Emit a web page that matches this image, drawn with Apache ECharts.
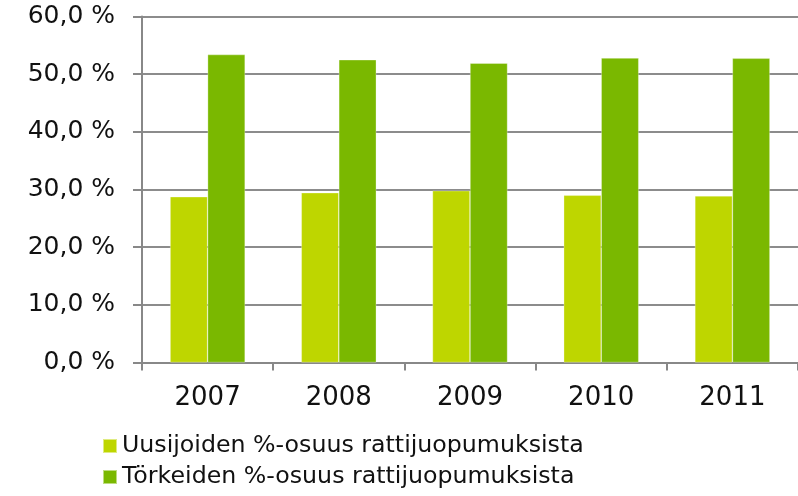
<!DOCTYPE html>
<html><head><meta charset="utf-8">
<script src="https://cdn.jsdelivr.net/npm/echarts@6/dist/echarts.min.js"></script>
<style>html,body{margin:0;padding:0;background:#fff}#c{width:798px;height:496px}</style>
</head><body><div id="c"></div>
<script>
const categories = ['2007', '2008', '2009', '2010', '2011'];
const seriesNames = ['Uusijoiden %-osuus rattijuopumuksista', 'Törkeiden %-osuus rattijuopumuksista'];
const uusijoiden = [28.75, 29.45, 29.8, 29.0, 28.9];
const torkeiden = [53.4, 52.5, 51.9, 52.8, 52.75];
const yTicks = [0, 10, 20, 30, 40, 50, 60];

const chart = echarts.init(document.getElementById('c'), null, {renderer: 'canvas'});
const font = 'DejaVu Sans';
chart.setOption({
  animation: false,
  backgroundColor: '#fff',
  grid: {left: 142, top: 16.5, width: 658, height: 346, containLabel: false},
  xAxis: {
    type: 'category', data: categories,
    axisLine: {lineStyle: {color: '#888', width: 2}},
    axisTick: {show: true, length: 8, lineStyle: {color: '#888', width: 2}, alignWithLabel: false},
    axisLabel: {color: '#111', fontFamily: font, fontSize: 26, margin: 23}
  },
  yAxis: {
    type: 'value', min: yTicks[0], max: yTicks[yTicks.length - 1], interval: 10,
    axisLine: {show: true, lineStyle: {color: '#888', width: 2}},
    axisTick: {show: true, length: 9, lineStyle: {color: '#888', width: 2}},
    splitLine: {show: true, lineStyle: {color: '#8c8c8c', width: 2}},
    axisLabel: {color: '#111', fontFamily: font, fontSize: 25, margin: 27,
      formatter: v => v.toFixed(1).replace('.', ',') + ' %'}
  },
  legend: {
    orient: 'vertical', left: 97, top: 429,
    itemWidth: 14, itemHeight: 14, itemGap: 7,
    icon: 'rect',
    textStyle: {color: '#111', fontFamily: font, fontSize: 23.7},
    data: seriesNames
  },
  series: [
    {name: seriesNames[0], type: 'bar', data: uusijoiden, barWidth: '28.6%', barGap: '0%',
     itemStyle: {color: '#BED600', borderColor: 'rgba(255,255,255,0.5)', borderWidth: 0.6}},
    {name: seriesNames[1], type: 'bar', data: torkeiden, barWidth: '28.6%', barGap: '0%',
     itemStyle: {color: '#7AB800', borderColor: 'rgba(255,255,255,0.5)', borderWidth: 0.6}}
  ]
});
</script></body></html>
